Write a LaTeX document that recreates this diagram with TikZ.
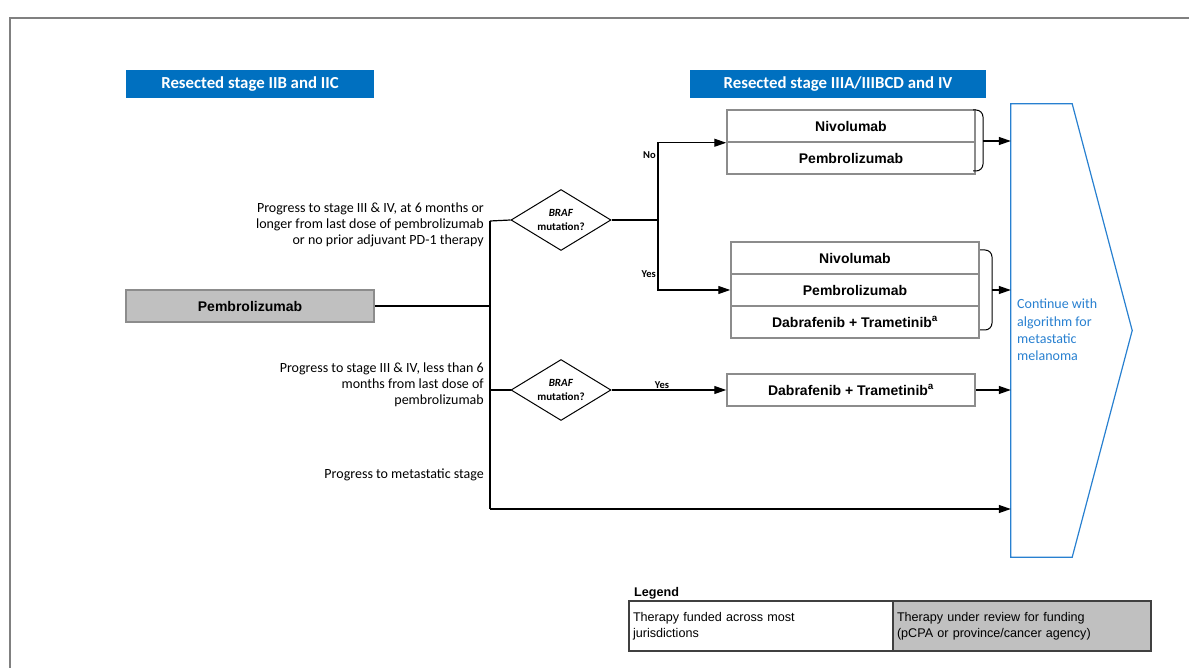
\documentclass[tikz,border=0pt]{standalone}
\usepackage{fontspec}
\setmainfont{Liberation Sans}
\newfontfamily\calibri{Carlito}
\usetikzlibrary{shapes.geometric,arrows.meta}
\definecolor{hdrblue}{RGB}{0,112,192}
\definecolor{linkblue}{RGB}{40,128,208}
\definecolor{boxgray}{RGB}{140,140,140}
\definecolor{fillgray}{RGB}{192,192,192}
\definecolor{framegray}{RGB}{128,128,128}

\begin{document}
\begin{tikzpicture}[x=1pt,y=-1pt,
  hdr/.style={fill=hdrblue, text=white, font=\calibri\bfseries\fontsize{16.8}{19}\selectfont, minimum height=28pt, inner sep=0pt},
  drug/.style={draw=boxgray, line width=1.5pt, font=\bfseries\fontsize{14}{16}\selectfont, minimum width=248pt, minimum height=32pt, inner sep=0pt},
  decide/.style={diamond, draw, line width=1pt, aspect=1.65, minimum width=100pt, minimum height=61pt, inner sep=0pt, align=center, font=\calibri\bfseries\fontsize{11}{14}\selectfont},
  lbl/.style={anchor=east, align=right, inner sep=0pt, font=\calibri\fontsize{14}{16}\selectfont},
  yn/.style={font=\calibri\bfseries\fontsize{10.5}{12}\selectfont, inner sep=1pt},
  ln/.style={line width=1.2pt},
  arr/.style={line width=1.2pt, -{Triangle[length=12pt,width=8pt]}},
  brk/.style={line width=1pt, rounded corners=7pt},
  legtxt/.style={draw=black!75, line width=1.5pt, text width=256pt, minimum height=50pt, inner xsep=4pt, align=left, font=\fontsize{12.6}{16.5}\selectfont}]
\useasboundingbox (0,0) rectangle (1189,668);

% frame
\draw[framegray, line width=2pt] (10,668) -- (10,18) -- (1189,18);

% headers
\node[hdr, minimum width=248pt] (hdrA) at (250,84) {Resected stage IIB and IIC};
\node[hdr, minimum width=296pt] (hdrB) at (838,84) {Resected stage IIIA/IIIBCD and IV};

% start
\node[drug, fill=fillgray] (pem) at (250,306) {Pembrolizumab};

% left labels
\node[lbl] (labA) at (484,225) {Progress to stage III \& IV, at 6 months or\\longer from last dose of pembrolizumab\\or no prior adjuvant PD-1 therapy};
\node[lbl] (labB) at (484,385) {Progress to stage III \& IV, less than 6\\months from last dose of\\pembrolizumab};
\node[lbl] (labC) at (484,475) {Progress to metastatic stage};

% decisions
\node[decide] (d1) at (561,220) {\textit{BRAF}\\mutation?};
\node[decide] (d2) at (561,390) {\textit{BRAF}\\mutation?};

% therapies
\node[drug] (nivoA) at (851,126) {Nivolumab};
\node[drug] (pembroA) at (851,158) {Pembrolizumab};
\node[drug] (nivoB) at (855,258) {Nivolumab};
\node[drug] (pembroB) at (855,290) {Pembrolizumab};
\node[drug] (dtB) at (855,322) {Dabrafenib + Trametinib\textsuperscript{a}};
\node[drug] (dtC) at (851,390) {Dabrafenib + Trametinib\textsuperscript{a}};

% continue
\node[minimum width=61pt, minimum height=453pt, inner sep=0pt] (cont) at (1041.5,330.5) {};
\draw[linkblue, line width=1.2pt] (cont.north west) -- (cont.north east) -- ([xshift=60pt]cont.east) -- (cont.south east) -- (cont.south west) -- cycle;
\node[anchor=north west, inner sep=0pt, align=left, text=linkblue, font=\calibri\fontsize{14}{17.3}\selectfont] (contTxt) at (1017,299) {Continue with\\algorithm for\\metastatic\\melanoma};

% trunk
\coordinate (jA) at (490,221);
\coordinate (jB) at (490,509);
\coordinate (sp) at (658,220);
\draw[ln] (jA) -- (jB);
\draw[ln] (pem.east) -- (pem.east -| jA);
\draw[ln] (jA) -- (d1.west);
\draw[ln] (jA |- d2.west) -- (d2.west);
\draw[arr] (jB) -- (cont.west |- jB);

% branches
\draw[ln] (d1.east) -- (sp);
\draw[arr] (sp) |- (nivoA.south west);
\draw[arr] (sp) |- (pembroB.west);
\node[yn, anchor=east] (no) at (657,155) {No};
\node[yn, anchor=east] (yesA) at (657,274) {Yes};
\draw[arr] (d2.east) -- node[yn, above, pos=0.44] (yesB) {Yes} (dtC.west);
\draw[arr] (dtC.east) -- (cont.west |- dtC.east);

% brackets
\draw[brk] (973,110) -- (983,110) -- (983,171) -- (973,171);
\draw[brk] (980,250) -- (992,250) -- (992,330) -- (980,330);
\coordinate (bA) at (983,141);
\coordinate (bB) at (992,290);
\draw[arr] (bA) -- (cont.west |- bA);
\draw[arr] (bB) -- (cont.west |- bB);

% legend
\node[anchor=west, inner sep=0pt, font=\bfseries\fontsize{12.6}{14}\selectfont] (legHd) at (634,593) {Legend};
\node[legtxt, fill=white] (legA) at (761,626) {Therapy funded across most\\jurisdictions};
\node[legtxt, fill=fillgray, text width=250pt] (legB) at (1022,626) {Therapy under review for funding\\(pCPA or province/cancer agency)};
\end{tikzpicture}
\end{document}
